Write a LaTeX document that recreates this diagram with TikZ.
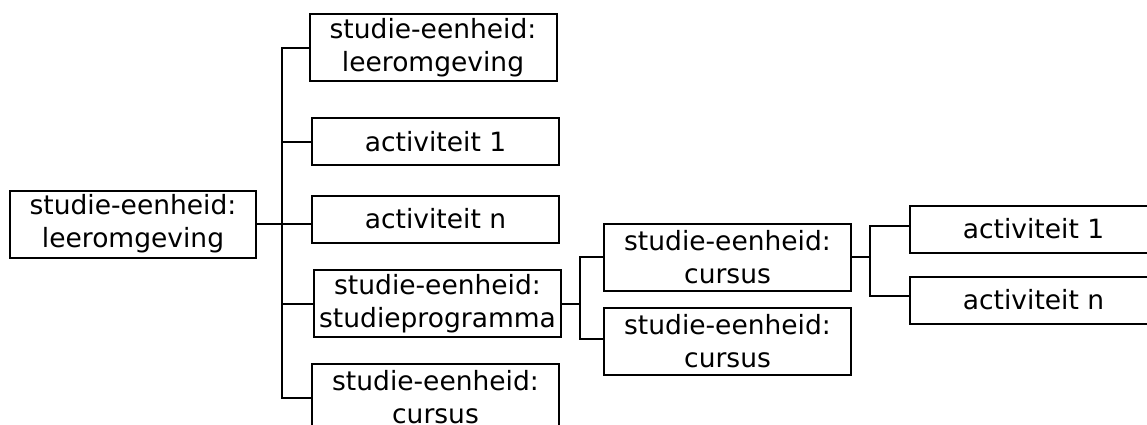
\documentclass[tikz,border=0pt]{standalone}
\usepackage{fontspec}
\setmainfont{DejaVu Sans}
\usetikzlibrary{positioning,calc}

\begin{document}
\begin{tikzpicture}[x=1pt,y=-1pt,
    unit/.style={draw,line width=2pt,minimum width=247pt,align=center,
      inner sep=0pt,font=\fontsize{26.5}{33}\selectfont},
    tall/.style={unit,minimum height=67pt},
    flat/.style={unit,minimum height=47pt},
    link/.style={line width=2pt}]
  \useasboundingbox (0,0) rectangle (1147,424);
  \clip (0,0) rectangle (1147,424);

  % Root
  \node[tall,minimum width=246pt] (root) at (133,224) {studie-eenheid:\\leeromgeving};

  % First level
  \node[tall] (le)   at (433,47.5)  {studie-eenheid:\\leeromgeving};
  \node[flat] (act1) at (435.5,141.5) {activiteit 1};
  \node[flat] (actn) at (435.5,219) {activiteit n};
  \node[tall] (prog) at (437.5,303.5) {studie-eenheid:\\studieprogramma};
  \node[tall] (cb)   at (435.5,397.5) {studie-eenheid:\\cursus};

  % Second level
  \node[tall] (c1) at (727.5,257) {studie-eenheid:\\cursus};
  \node[tall] (c2) at (727.5,341.5) {studie-eenheid:\\cursus};

  % Third level
  \node[flat] (ra1) at (1033.5,229) {activiteit 1};
  \node[flat] (ran) at (1033.5,300) {activiteit n};

  % Bus lines
  \coordinate (b1) at (282,0);
  \coordinate (b2) at (580,0);
  \coordinate (b3) at (870,0);

  \draw[link] (le.west) -- (le.west -| b1) -- (cb.west -| b1) -- (cb.west);
  \draw[link] (act1.west) -- (act1.west -| b1);
  \draw[link] (root.east) -- (root.east -| actn.west);
  \draw[link] (prog.west) -- (prog.west -| b1);

  \draw[link] (c1.west) -- (c1.west -| b2) -- ([yshift=3pt]c2.west -| b2) -- ([yshift=3pt]c2.west);
  \draw[link] (prog.east) -- (prog.east -| b2);

  \draw[link] ([yshift=3pt]ra1.west) -- ([yshift=3pt]ra1.west -| b3) -- ([yshift=4pt]ran.west -| b3) -- ([yshift=4pt]ran.west);
  \draw[link] (c1.east) -- (c1.east -| b3);
\end{tikzpicture}
\end{document}
